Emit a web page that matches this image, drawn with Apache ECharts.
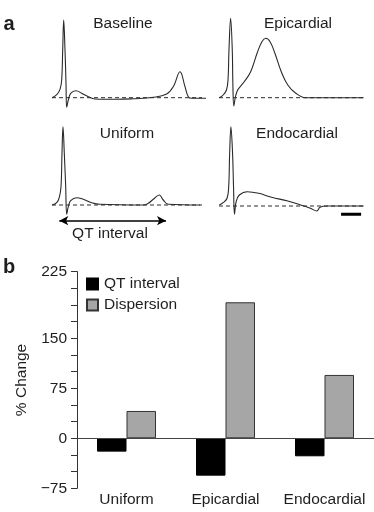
<!DOCTYPE html>
<html>
<head>
<meta charset="utf-8">
<title>QT interval and dispersion</title>
<script src="https://cdn.jsdelivr.net/npm/echarts@6/dist/echarts.min.js"></script>
<style>
  html, body { margin: 0; padding: 0; background: #fff; }
  #chart { width: 374px; height: 512px; }
</style>
</head>
<body>
<div id="chart"></div>
<script>
// panel a: traces as [time, amplitude] (time from panel start, amplitude above baseline)
var baselineTrace = [[0,0],[5,3.4],[8,8.4],[9.7,17.7],[10.7,47.7],[11.7,77.7],[13,47.7],[14,14.7],[14.7,-9.6],[16.3,-2.3],[18.7,4.4],[24,7],[29.7,4.4],[36.3,1],[43,-1.3],[64.7,-1.6],[81.3,-1],[101.3,0.4],[114.7,3.7],[121.3,11],[128,26],[133,11],[136.3,1],[139.7,-0.6],[154,-0.6]];
var epicardialTrace = [[0.3,0],[4.3,2.7],[7.7,7.7],[9.3,17.7],[10.3,47.7],[12,79.4],[13.7,47.7],[14.3,14.4],[15.3,-8.3],[17,1],[19.3,7.7],[26,16],[32.7,26],[39.3,44.4],[44.3,56],[48.3,59.4],[52.7,56],[57.7,44.4],[64.3,26],[71,12.7],[79.3,4.4],[89.3,0],[149.3,0]];
var uniformTrace = [[0,0],[4.7,2.3],[7.3,7.7],[9,18.3],[10,51.7],[11,78.3],[12.3,51.7],[13.7,18.3],[14.7,-9.3],[16.3,-1.7],[18.7,4.3],[24.7,7.3],[31.3,5.7],[39.7,2.3],[48,0.7],[91.3,0],[96.3,1.7],[101.3,5.7],[107.3,10],[111.3,5],[116.3,0.7],[148,0]];
var endocardialTrace = [[0.3,1],[4.3,3.3],[8.3,7.7],[10,19.3],[11,52.7],[12.3,79.3],[14,52.7],[15,19.3],[16,-8.3],[17.7,4.3],[21,11],[29.3,14.3],[41,12.7],[54.3,8.7],[71,5],[84.3,1],[94.3,-2.3],[101,-5],[104.3,-1.3],[111,0],[149.3,0]];
var panelTitles = ['Baseline', 'Epicardial', 'Uniform', 'Endocardial'];
var qtSpan = [7.3, 114];          // QT interval arrow, in Uniform panel time units
var scaleBar = [126, 146.7];      // scale bar, in Endocardial panel time units

// panel b
var categories = ['Uniform', 'Epicardial', 'Endocardial'];
var qtChange = [-20, -56, -27];
var dispersionChange = [41, 204, 95];
var tickValues = [-75, 0, 75, 150, 250];
var tickLabels = ['\u221275', '0', '75', '150', '225'];

var FONT = '"Liberation Sans", Arial, sans-serif';
var INK = '#1e1e1e';
var TRACE = '#2a2a2a';

var chart = echarts.init(document.getElementById('chart'));

var traceGrids = [
  { left: 52, top: 7.7, width: 160, height: 110 },
  { left: 219, top: 7.7, width: 160, height: 110 },
  { left: 52, top: 115, width: 160, height: 110 },
  { left: 219, top: 116, width: 160, height: 110 }
];
var traces = [baselineTrace, epicardialTrace, uniformTrace, endocardialTrace];
var dashEnds = [150, 149.3, 150, 149.3];

var xAxes = [], yAxes = [], series = [];
traceGrids.forEach(function (g, i) {
  xAxes.push({ type: 'value', gridIndex: i, min: 0, max: 160, show: false });
  yAxes.push({ type: 'value', gridIndex: i, min: -20, max: 90, show: false });
  series.push({
    type: 'line', xAxisIndex: i, yAxisIndex: i, silent: true,
    data: [[0, 0], [dashEnds[i], 0]], symbol: 'none',
    lineStyle: { color: TRACE, width: 1, type: [4, 3] }
  });
  series.push({
    type: 'line', xAxisIndex: i, yAxisIndex: i, silent: true,
    data: traces[i], symbol: 'none', smooth: 0.4,
    lineStyle: { color: TRACE, width: 1.1 }
  });
});

// QT interval arrow on Uniform panel
series[5].markLine = {
  silent: true, symbol: ['arrow', 'arrow'], symbolSize: [7, 9],
  lineStyle: { color: '#000', width: 1.5, type: 'solid' },
  label: { show: false },
  data: [[{ coord: [qtSpan[0], -15.7] }, { coord: [qtSpan[1], -15.7] }]]
};
// scale bar on Endocardial panel
series.push({
  type: 'line', xAxisIndex: 3, yAxisIndex: 3, silent: true, symbol: 'none',
  data: [[scaleBar[0], -8.3], [scaleBar[1], -8.3]],
  lineStyle: { color: '#000', width: 3 }
});

// bar chart grid
xAxes.push({
  type: 'category', gridIndex: 4, data: categories,
  axisLine: { show: false, onZero: false }, axisTick: { show: false },
  axisLabel: { color: INK, fontFamily: FONT, fontSize: 15.5, margin: 3, interval: 0, hideOverlap: false }
});
yAxes.push({
  type: 'value', gridIndex: 4, min: -75, max: 250, interval: 25,
  name: '% Change', nameLocation: 'middle', nameGap: 41, nameRotate: 90,
  nameTextStyle: { color: INK, fontFamily: FONT, fontSize: 15.5 },
  axisLine: { show: true, lineStyle: { color: '#333', width: 1 } },
  axisTick: { show: true, length: 6, lineStyle: { color: '#333' } },
  splitLine: { show: false },
  axisLabel: {
    color: INK, fontFamily: FONT, fontSize: 15.5, margin: 10,
    formatter: function (v) {
      var k = tickValues.indexOf(v);
      return k < 0 ? '' : tickLabels[k];
    }
  }
});

series.push({
  name: 'QT interval', type: 'bar', xAxisIndex: 4, yAxisIndex: 4,
  data: qtChange, barWidth: 29.5, barGap: '0%',
  itemStyle: { color: '#000', borderColor: '#000', borderWidth: 1 },
  markLine: {
    silent: true, symbol: 'none', label: { show: false },
    lineStyle: { color: '#444', width: 1, type: 'solid' },
    data: [{ yAxis: 0 }]
  }
});
series.push({
  name: 'Dispersion', type: 'bar', xAxisIndex: 4, yAxisIndex: 4,
  data: dispersionChange, barWidth: 29.5, barGap: '0%',
  itemStyle: { color: '#a6a6a6', borderColor: '#333', borderWidth: 1 }
});

function label(text, x, y, size, bold) {
  return {
    type: 'text', x: x, y: y, silent: true,
    style: {
      text: text, fill: INK, fontFamily: FONT, fontSize: size,
      fontWeight: bold ? 'bold' : 'normal', align: 'center', verticalAlign: 'middle'
    }
  };
}

chart.setOption({
  animation: false,
  backgroundColor: '#fff',
  grid: traceGrids.concat([{ left: 77, top: 271.6, width: 301, height: 216.7 }]),
  xAxis: xAxes,
  yAxis: yAxes,
  legend: {
    data: ['QT interval', 'Dispersion'], orient: 'vertical',
    left: 81, top: 271, itemWidth: 11, itemHeight: 11, itemGap: 5,
    icon: 'rect', selectedMode: false,
    textStyle: { color: INK, fontFamily: FONT, fontSize: 15.5, padding: [0, 0, 0, 1] }
  },
  series: series,
  graphic: [
    label('a', 9, 24, 20, true),
    label('b', 9, 267, 20, true),
    label(panelTitles[0], 123, 23.5, 15.5),
    label(panelTitles[1], 298, 23.5, 15.5),
    label(panelTitles[2], 127, 134, 15.5),
    label(panelTitles[3], 297, 133.5, 15.5),
    label('QT interval', 110, 233.5, 15.5)
  ]
});
</script>
</body>
</html>
